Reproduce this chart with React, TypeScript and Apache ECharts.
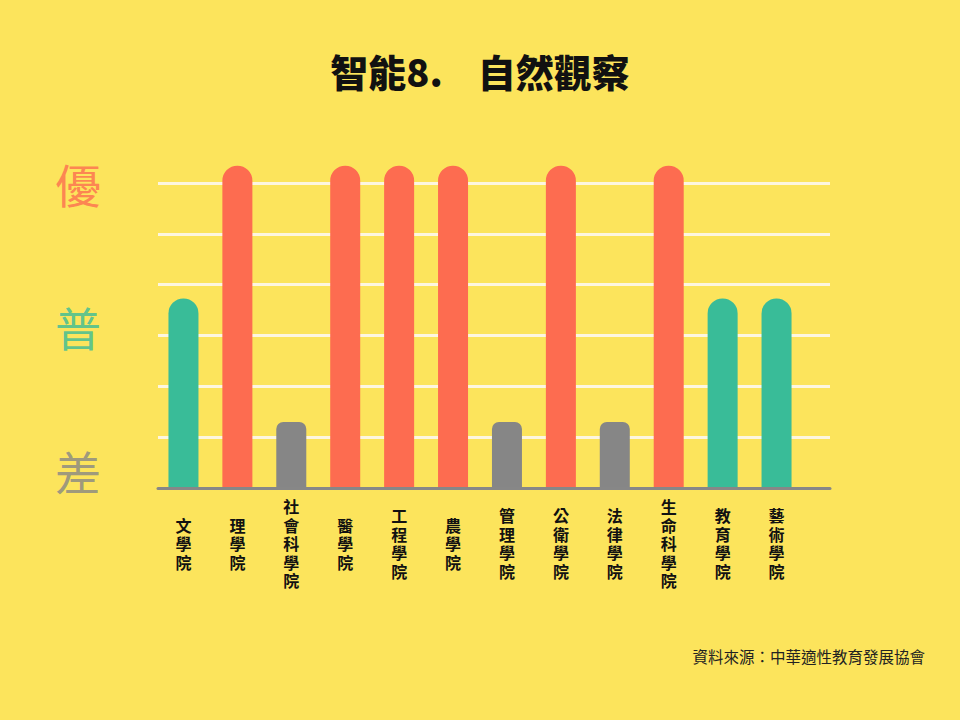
import React, { useEffect, useRef } from 'react';
import * as echarts from 'echarts';

// 各學院在「自然觀察」的表現
const categories = ['文學院', '理學院', '社會科學院', '醫學院', '工程學院', '農學院', '管理學院', '公衛學院', '法律學院', '生命科學院', '教育學院', '藝術學院'];
const levels = ['普', '優', '差', '優', '優', '優', '差', '優', '差', '優', '普', '普'];
const values = [3.73, 6.34, 1.3, 6.34, 6.34, 6.34, 1.3, 6.34, 1.3, 6.34, 3.73, 3.73];
const ratingLabels = ['優', '普', '差'];
const ratingLabelValues = [6, 3.18, 0.36];

const COLORS: Record<string, string> = { 優: '#fd6c50', 普: '#39bc98', 差: '#868686' };
const BG = '#fce45c';
const FONT = '"Noto Sans CJK TC", "Noto Sans CJK SC", sans-serif';

const App: React.FC = () => {
  const chartRef = useRef<HTMLDivElement>(null);

  useEffect(() => {
    document.body.style.margin = '0';
    document.body.style.background = BG;
    if (!chartRef.current) return;
    const chart = echarts.init(chartRef.current, undefined, { renderer: 'svg' });

    const option: echarts.EChartsOption = {
      animation: false,
      backgroundColor: BG,
      title: [
        {
          text: '智能8.    自然觀察',
          left: 'center',
          top: 46,
          textStyle: { fontFamily: FONT, fontSize: 38, fontWeight: 900, color: '#111' },
        },
        {
          text: '資料來源：中華適性教育發展協會',
          right: 30,
          top: 643,
          textStyle: { fontFamily: FONT, fontSize: 15.5, fontWeight: 'normal', color: '#222' },
        },
      ],
      grid: [
        { left: 158, right: 130, top: 183, bottom: 232 },
        { left: 156.5, right: 156.5, top: 183, bottom: 232 },
      ],
      xAxis: [
        {
          gridIndex: 0,
          type: 'value',
          min: 0,
          max: 1,
          axisLine: { show: true, lineStyle: { color: '#878787', width: 3 } },
          axisTick: { show: false },
          axisLabel: { show: false },
          splitLine: { show: false },
          z: 5,
        },
        {
          gridIndex: 1,
          type: 'category',
          data: categories,
          axisLine: { show: false },
          axisTick: { show: false },
          axisLabel: {
            interval: 0,
            margin: 55,
            verticalAlign: 'middle',
            fontFamily: FONT,
            fontSize: 16,
            fontWeight: 'bold',
            lineHeight: 18.5,
            color: '#111',
            // 一字一行，直排
            formatter: (v: string) => v.split('').join('\n'),
          },
        },
      ],
      yAxis: [
        {
          gridIndex: 0,
          type: 'value',
          min: 0,
          max: 6,
          interval: 1,
          axisLine: { show: false },
          axisTick: { show: false },
          axisLabel: { show: false },
          splitLine: { show: true, showMinLine: false, lineStyle: { color: '#fdf6e0', width: 3 } },
        },
        {
          gridIndex: 1,
          type: 'value',
          min: 0,
          max: 6,
          interval: 1,
          axisLine: { show: false },
          axisTick: { show: false },
          axisLabel: { show: false },
          splitLine: { show: false },
        },
      ],
      series: [
        {
          type: 'bar',
          xAxisIndex: 1,
          yAxisIndex: 1,
          barWidth: 30,
          clip: false,
          z: 3,
          data: values.map((v, i) => ({
            value: v,
            itemStyle: {
              color: COLORS[levels[i]],
              borderRadius: levels[i] === '差' ? [7, 7, 0, 0] : [15, 15, 0, 0],
            },
          })),
        },
        // 左側評等文字，放在與長條相同的尺度上
        {
          type: 'scatter',
          xAxisIndex: 0,
          yAxisIndex: 0,
          symbolSize: 0,
          silent: true,
          clip: false,
          data: ratingLabels.map((r, i) => ({
            value: [0, ratingLabelValues[i]],
            label: {
              show: true,
              position: 'inside',
              offset: [-80, 0],
              formatter: r,
              fontFamily: FONT,
              fontSize: 46,
              color: COLORS[r],
            },
          })),
        },
      ],
    };

    chart.setOption(option);
    return () => chart.dispose();
  }, []);

  return <div ref={chartRef} style={{ width: '960px', height: '720px' }} />;
};

export default App;
